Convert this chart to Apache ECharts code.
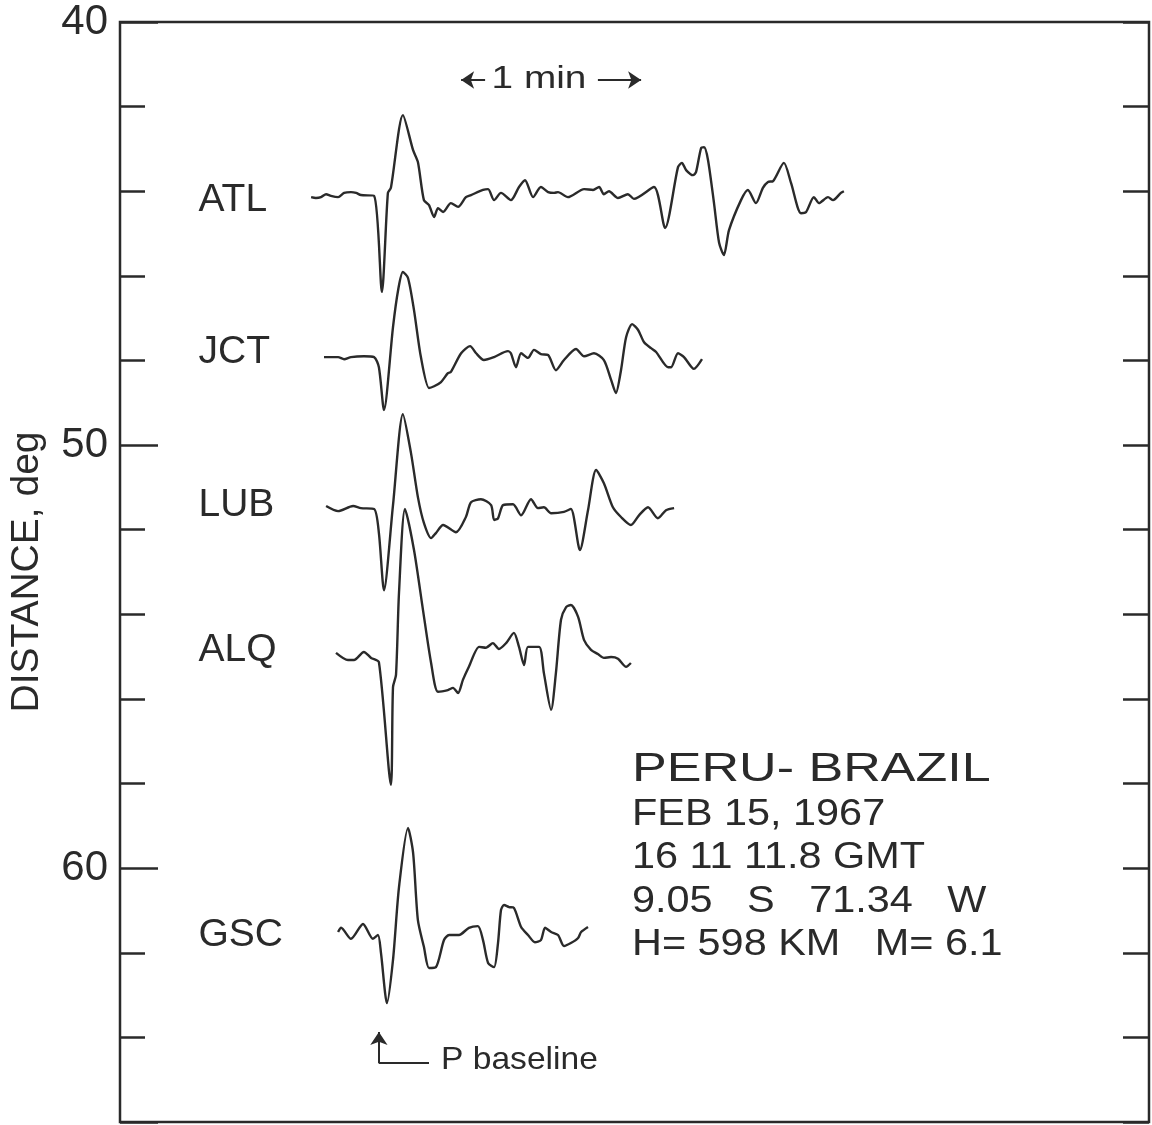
<!DOCTYPE html>
<html>
<head>
<meta charset="utf-8">
<script src="https://cdn.jsdelivr.net/npm/echarts@6/dist/echarts.min.js"></script>
<style>
html,body{margin:0;padding:0;background:#fff;}
#chart{width:1152px;height:1125px;}
</style>
</head>
<body>
<div id="chart"></div>
<script>
// ---- data (time in seconds relative to P baseline; deflection in degrees of distance, up = positive) ----
const stations = ['ATL', 'JCT', 'LUB', 'ALQ', 'GSC'];
const baselines = [44.09, 47.92, 51.49, 54.96, 61.58];
const labelDist = [44.21, 47.80, 51.42, 54.85, 61.58];
const labelTime = -61;
const yMajorTicks = [40, 50, 60];

const atl = [[-23.3,-0.05],[-21.7,-0.07],[-20.0,-0.05],[-18.3,0.02],[-16.7,-0.02],[-14.3,-0.05],[-12.3,0.05],[-10.0,0.07],[-8.3,0.05],[-6.7,0],[-2.3,-0.02],[0.3,-2.29],[2.3,0.05],[3.3,0.17],[7.3,1.89],[10.7,1.06],[12.3,0.78],[14.3,-0.12],[16.0,-0.24],[17.7,-0.52],[19.0,-0.31],[20.7,-0.40],[23.3,-0.19],[25.7,-0.28],[28.3,-0.05],[30.0,0],[34.0,0.12],[35.7,0.14],[37.7,-0.12],[40.0,0.05],[43.3,-0.12],[46.0,0.19],[48.0,0.35],[50.7,-0.05],[53.3,0.19],[55.7,0.07],[57.7,0.05],[59.0,0.07],[62.3,-0.05],[67.7,0.14],[70.7,0.12],[72.7,0.19],[74.3,0.02],[76.0,0.09],[79.0,-0.07],[82.3,0.02],[84.3,-0.09],[91.0,0.19],[94.7,-0.78],[99.0,0.66],[100.3,0.76],[101.7,0.59],[104.0,0.47],[105.0,0.54],[106.7,1.11],[107.7,1.13],[109.0,0.83],[111.0,-0.19],[112.7,-1.13],[114.3,-1.42],[116.0,-0.83],[120.0,-0.12],[122.3,0.12],[125.0,-0.19],[127.3,0.17],[129.0,0.31],[130.7,0.33],[134.3,0.76],[136.7,0.28],[140.0,-0.43],[141.7,-0.40],[144.3,-0.05],[146.0,-0.19],[149.0,-0.05],[150.7,-0.12],[153.3,0.05],[154.3,0.09]];

const jct = [[-19.0,0],[-14.3,0],[-12.3,-0.05],[-10.0,0],[-5.7,0.02],[-2.3,0],[-0.7,-0.24],[1.0,-1.25],[4.0,0.71],[5.7,1.58],[7.3,2.01],[9.0,1.87],[11.0,1.11],[13.3,0],[16.0,-0.73],[17.7,-0.69],[20.0,-0.59],[22.3,-0.38],[23.3,-0.35],[26.7,0.09],[29.7,0.26],[31.7,0.09],[34.3,-0.07],[37.7,0],[42.3,0.14],[43.3,0.09],[45.0,-0.24],[46.7,0.09],[49.0,-0.02],[51.0,0.17],[53.3,0.07],[55.7,0.05],[58.3,-0.31],[61.0,-0.07],[65.0,0.19],[67.7,0.02],[71.0,0.09],[74.3,-0.07],[76.7,-0.54],[78.3,-0.85],[80.0,-0.31],[81.7,0.47],[83.7,0.78],[85.7,0.64],[87.7,0.35],[90.0,0.21],[91.7,0.12],[95.7,-0.24],[96.7,-0.24],[99.0,0.09],[101.0,0],[104.3,-0.28],[107.0,-0.05]];

const lub = [[-18.3,0.05],[-14.3,-0.07],[-9.3,0.05],[-6.7,0],[-2.3,-0.02],[-0.7,-0.59],[1.0,-1.94],[4.0,0.07],[7.3,2.22],[10.0,1.30],[12.3,0.26],[14.3,-0.35],[16.7,-0.71],[18.3,-0.59],[20.7,-0.40],[25.0,-0.57],[28.3,-0.21],[30.0,0.14],[33.3,0.21],[36.7,0.07],[37.7,-0.28],[39.0,-0.24],[40.7,0.07],[44.0,0.09],[46.7,-0.17],[50.0,0.21],[52.3,0],[54.3,0.02],[56.7,-0.12],[61.0,-0.09],[63.3,-0.02],[66.3,-0.99],[69.0,-0.05],[71.7,0.90],[74.3,0.59],[77.3,0.02],[80.0,-0.21],[83.3,-0.40],[86.0,-0.17],[89.0,0.02],[92.3,-0.24],[95.0,-0.05],[97.7,0]];

const alq = [[-15.0,0.05],[-11.0,-0.12],[-9.0,-0.12],[-5.7,0.07],[-3.3,-0.07],[-0.7,-0.17],[3.3,-3.07],[4.0,-0.76],[5.0,-0.47],[6.0,1.47],[8.0,3.45],[11.0,2.48],[14.0,1.06],[16.7,-0.19],[19.0,-0.87],[22.3,-0.83],[24.0,-0.78],[25.7,-0.90],[27.3,-0.59],[29.3,-0.28],[32.7,0.19],[35.0,0.17],[37.3,0.28],[39.3,0.14],[41.7,0.28],[44.3,0.52],[46.0,0.19],[47.7,-0.24],[49.0,0.19],[52.7,0.19],[54.3,-0.43],[56.7,-1.30],[58.3,-0.43],[60.0,0.83],[61.7,1.13],[63.3,1.18],[65.7,0.90],[67.7,0.35],[70.0,0.12],[72.3,0.02],[74.3,-0.07],[76.7,-0.05],[79.0,-0.09],[81.7,-0.28],[83.3,-0.19]];

const gsc = [[-14.3,0.07],[-13.3,0.17],[-10.0,-0.09],[-6.0,0.26],[-2.7,-0.09],[-1.0,0],[0,-0.43],[2.0,-1.61],[4.0,-0.59],[6.0,1.13],[9.0,2.53],[10.7,1.94],[12.3,0.35],[14.3,-0.28],[16.0,-0.78],[18.3,-0.76],[21.0,-0.12],[22.7,0],[26.0,0],[29.3,0.17],[32.3,0.21],[34.0,-0.12],[35.7,-0.66],[37.7,-0.76],[39.0,-0.19],[40.0,0.59],[41.0,0.71],[42.7,0.66],[44.3,0.64],[46.7,0.19],[49.0,0],[51.3,-0.17],[53.3,-0.12],[54.7,0.17],[56.7,0.07],[59.0,0],[61.0,-0.26],[63.3,-0.19],[65.7,-0.07],[66.7,0.07],[69.0,0.19]];

const traces = [atl, jct, lub, alq, gsc];

// annotation: 1-minute scale bar and P-baseline marker (data units)
const minuteBar = { start: 26.7, end: 86.7, gapStart: 34.7, gapEnd: 72.3, dist: 41.37 };
const pMarker = { t: -0.7, top: 63.87, bottom: 64.61, tailEnd: 16 };

const infoLines = ['FEB 15, 1967', '16 11 11.8 GMT', '9.05   S   71.34   W', 'H= 598 KM   M= 6.1'];

// ---- chart ----
const INK = '#2a2a2a';
const FONT = '"Liberation Sans", Arial, sans-serif';
const chart = echarts.init(document.getElementById('chart'), null, { renderer: 'canvas' });

const series = traces.map((tr, i) => ({
  name: stations[i],
  type: 'line',
  xAxisIndex: 0,
  yAxisIndex: 0,
  data: tr.map(([t, a]) => [t, +(baselines[i] - a).toFixed(3)]),
  showSymbol: false,
  smooth: 0.25,
  lineStyle: { color: INK, width: 2.4 },
  silent: true
}));

series.push({
  type: 'scatter',
  xAxisIndex: 0,
  yAxisIndex: 0,
  symbolSize: 1,
  itemStyle: { color: 'rgba(0,0,0,0)', opacity: 1 },
  data: stations.map((s, i) => ({ name: s, value: [labelTime, labelDist[i]] })),
  label: {
    show: true, position: 'right', distance: 0, opacity: 1,
    formatter: p => p.name,
    fontFamily: FONT, fontSize: 39, color: INK
  },
  silent: true,
  markLine: {
    silent: true,
    symbol: ['none', 'arrow'],
    symbolSize: 13,
    label: { show: false },
    lineStyle: { color: INK, width: 2, type: 'solid', opacity: 1 },
    data: [
      [{ coord: [minuteBar.gapStart, minuteBar.dist] }, { coord: [minuteBar.start, minuteBar.dist] }],
      [{ coord: [minuteBar.gapEnd, minuteBar.dist] }, { coord: [minuteBar.end, minuteBar.dist] }],
      [{ coord: [pMarker.t, pMarker.bottom] }, { coord: [pMarker.t, pMarker.top] }],
      [{ coord: [pMarker.t, pMarker.bottom], symbol: 'none' }, { coord: [pMarker.tailEnd, pMarker.bottom], symbol: 'none' }]
    ]
  }
});

const graphic = [
  { type: 'text', x: 632, y: 770, scaleX: 1.27, style: { text: 'PERU- BRAZIL', font: '41px ' + FONT, fill: INK, verticalAlign: 'middle' } }
];
const lineY = [815, 858, 902, 945];
infoLines.forEach((txt, i) => {
  graphic.push({ type: 'text', x: 632, y: lineY[i], scaleX: 1.15, style: { text: txt, font: '36px ' + FONT, fill: INK, verticalAlign: 'middle' } });
});
graphic.push({ type: 'text', x: 539, y: 79, scaleX: 1.25, style: { text: '1 min', font: '31px ' + FONT, fill: INK, align: 'center', verticalAlign: 'middle' } });
graphic.push({ type: 'text', x: 441, y: 1060, scaleX: 1.05, style: { text: 'P baseline', font: '32px ' + FONT, fill: INK, verticalAlign: 'middle' } });

const hiddenLine = { show: false, onZero: false };
const option = {
  animation: false,
  backgroundColor: '#ffffff',
  grid: { left: 120, right: 3, top: 22, bottom: 3, show: true, borderColor: INK, borderWidth: 2.5, backgroundColor: 'transparent' },
  xAxis: {
    type: 'value', min: -87, max: 256,
    axisLine: hiddenLine, axisTick: { show: false }, axisLabel: { show: false }, splitLine: { show: false }
  },
  yAxis: [
    {
      type: 'value', position: 'left', min: 40, max: 66, interval: 10, inverse: true,
      axisLine: hiddenLine,
      axisTick: { show: true, inside: true, length: 38, lineStyle: { color: INK, width: 2.5 } },
      axisLabel: {
        show: true, margin: 12, fontFamily: FONT, fontSize: 42, color: INK,
        formatter: v => (yMajorTicks.indexOf(v) >= 0 ? String(v) : '')
      },
      splitLine: { show: false },
      name: 'DISTANCE, deg', nameLocation: 'middle', nameRotate: 90, nameGap: 73,
      nameTextStyle: { fontFamily: FONT, fontSize: 39, color: INK }
    },
    {
      type: 'value', position: 'left', min: 40, max: 66, interval: 2, inverse: true,
      axisLine: hiddenLine,
      axisTick: { show: true, inside: true, length: 25, lineStyle: { color: INK, width: 2.5 } },
      axisLabel: { show: false }, splitLine: { show: false }
    },
    {
      type: 'value', position: 'right', min: 40, max: 66, interval: 2, inverse: true,
      axisLine: hiddenLine,
      axisTick: { show: true, inside: true, length: 26, lineStyle: { color: INK, width: 2.5 } },
      axisLabel: { show: false }, splitLine: { show: false }
    }
  ],
  series: series,
  graphic: graphic
};
chart.setOption(option);
</script>
</body>
</html>
